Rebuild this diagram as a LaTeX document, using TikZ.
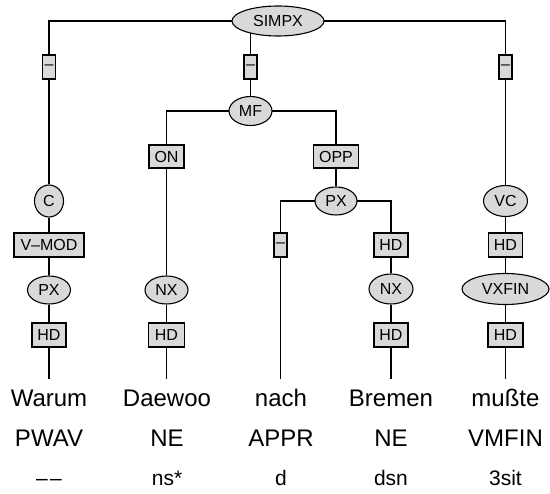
\documentclass[tikz,border=0pt]{standalone}
\usepackage{fontspec}
\setmainfont{Liberation Sans}
\usetikzlibrary{shapes.geometric,backgrounds}
\definecolor{nodefill}{HTML}{D9D9D9}
\tikzset{
  lab/.style={draw=black, line width=1.1pt, fill=nodefill, inner sep=0pt, font=\fontsize{16}{19}\selectfont},
  ell/.style={lab, ellipse},
  edgebox/.style={lab, rectangle, minimum height=24pt},
  word/.style={anchor=base, inner sep=0pt, font=\fontsize{24}{28}\selectfont},
  morph/.style={anchor=base, inner sep=0pt, font=\fontsize{21}{25}\selectfont},
  conn/.style={line width=1.2pt}
}
\begin{document}
\begin{tikzpicture}[x=1pt,y=-1pt]
\useasboundingbox (0,0) rectangle (550,494);
% top
\node[ell, minimum width=92pt, minimum height=30pt] (simpx) at (278,21) {SIMPX};
\node[edgebox, minimum width=13pt] (d1) at (49,67) {–};
\node[edgebox, minimum width=13pt] (d2) at (250.5,67) {–};
\node[edgebox, minimum width=13pt] (d3) at (505.5,67) {–};
% MF
\node[ell, minimum width=43pt, minimum height=29pt] (mf) at (250.5,111) {MF};
\node[edgebox, minimum width=35pt, minimum height=23pt] (on) at (166.5,156.5) {ON};
\node[edgebox, minimum width=45pt, minimum height=23pt] (opp) at (336,156.5) {OPP};
\node[ell, minimum width=42pt, minimum height=28pt] (px2) at (336,201) {PX};
\node[edgebox, minimum width=13pt] (d4) at (280.5,245) {–};
\node[edgebox, minimum width=34pt] (hd4) at (391,245) {HD};
% left column
\node[ell, minimum width=29pt, minimum height=32pt] (c) at (49,201) {C};
\node[edgebox, minimum width=70pt] (vmod) at (49,245) {V–MOD};
\node[ell, minimum width=43pt, minimum height=28pt] (pxw) at (49,290) {PX};
\node[edgebox, minimum width=34pt] (hdw) at (49,335) {HD};
% Daewoo column
\node[ell, minimum width=43pt, minimum height=28pt] (nxd) at (166.5,290) {NX};
\node[edgebox, minimum width=36pt] (hdd) at (166.5,335) {HD};
% Bremen column
\node[ell, minimum width=44pt, minimum height=30pt] (nxb) at (391,289) {NX};
\node[edgebox, minimum width=34pt] (hdb) at (391,335) {HD};
% right column
\node[ell, minimum width=44pt, minimum height=31pt] (vc) at (505.5,201) {VC};
\node[edgebox, minimum width=34pt] (hdvc) at (505.5,245) {HD};
\node[ell, minimum width=87pt, minimum height=31pt] (vxfin) at (505.5,289) {VXFIN};
\node[edgebox, minimum width=35pt] (hdm) at (505.5,335) {HD};
% terminal ends
\coordinate (e1) at (49,379);
\coordinate (e2) at (166.5,379);
\coordinate (e3) at (280.5,379);
\coordinate (e4) at (391,379);
\coordinate (e5) at (505.5,379);
% words
\node[word] (w1) at (49,407) {Warum};
\node[word] (w2) at (167,407) {Daewoo};
\node[word] (w3) at (281,407) {nach};
\node[word] (w4) at (391,407) {Bremen};
\node[word] (w5) at (505.5,407) {mußte};
\node[word] (p1) at (49,447) {PWAV};
\node[word] (p2) at (167,447) {NE};
\node[word] (p3) at (281,447) {APPR};
\node[word] (p4) at (391,447) {NE};
\node[word] (p5) at (505.5,447) {VMFIN};
\node[morph] (m1) at (49,486) {–\kern2.5pt–};
\node[morph] (m2) at (167,486) {ns*};
\node[morph] (m3) at (281,486) {d};
\node[morph] (m4) at (391,486) {dsn};
\node[morph] (m5) at (505.5,486) {3sit};
\begin{scope}[on background layer]
  \draw[conn] (simpx.center) -| (d1.center);
  \draw[conn] (simpx.center) -| (d3.center);
  \draw[conn] (d2.center |- simpx.center) -- (d2.center);
  \draw[conn] (d1) -- (c);
  \draw[conn] (c) -- (vmod);
  \draw[conn] (vmod) -- (pxw);
  \draw[conn] (pxw) -- (hdw);
  \draw[conn] (hdw) -- (e1);
  \draw[conn] (d2) -- (mf);
  \draw[conn] (mf.center) -| (on.center);
  \draw[conn] (mf.center) -| (opp.center);
  \draw[conn] (on) -- (nxd);
  \draw[conn] (nxd) -- (hdd);
  \draw[conn] (hdd) -- (e2);
  \draw[conn] (opp) -- (px2);
  \draw[conn] (px2.center) -| (d4.center);
  \draw[conn] (px2.center) -| (hd4.center);
  \draw[conn] (d4) -- (e3);
  \draw[conn] (hd4) -- (nxb);
  \draw[conn] (nxb) -- (hdb);
  \draw[conn] (hdb) -- (e4);
  \draw[conn] (d3) -- (vc);
  \draw[conn] (vc) -- (hdvc);
  \draw[conn] (hdvc) -- (vxfin);
  \draw[conn] (vxfin) -- (hdm);
  \draw[conn] (hdm) -- (e5);
\end{scope}
\end{tikzpicture}
\end{document}
